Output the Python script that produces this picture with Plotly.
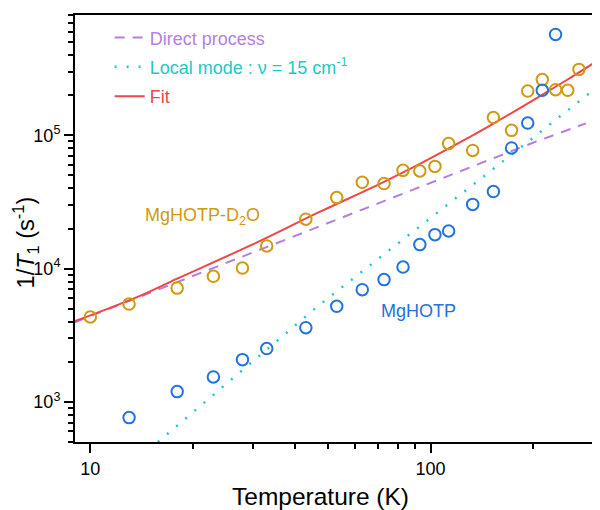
import math
import plotly.graph_objects as go

# ---------------- data ----------------
T_d2o = [10, 13, 18, 23, 28, 33, 43, 53, 63, 73, 83, 93, 103, 113, 133, 153, 173, 193, 213, 233, 253, 273]
rate_d2o = [4340, 5420, 7140, 8750, 10100, 14800, 23500, 34100, 44400, 43500, 54600, 54000,
            58500, 86700, 77100, 135900, 109000, 215000, 262000, 220000, 217600, 312600]

T_h = [13, 18, 23, 28, 33, 43, 53, 63, 73, 83, 93, 103, 113, 133, 153, 173, 193, 213, 233]
rate_h = [762, 1194, 1538, 2075, 2512, 3606, 5213, 6950, 8270, 10280, 15140, 17990, 19150,
          30340, 37850, 80400, 123600, 217600, 572000]

T_direct = [9, 14, 20, 30, 47, 100, 200, 286]
rate_direct = [3960, 6150, 8800, 13200, 20600, 44000, 88000, 123000]

T_local = [15.8, 23, 30, 41.3, 46.3, 70, 100, 146, 200, 300]
rate_local = [500, 1130, 2000, 3980, 5150, 11770, 23900, 50900, 95800, 217600]

T_fit = [9, 14, 18, 30, 47, 70, 93, 120, 150, 200, 250, 300]
rate_fit = [4030, 6250, 8400, 15200, 26500, 42500, 61000, 86500, 119000, 183000, 258000, 345000]

x_major = [10, 100]
x_major_text = ["10", "100"]
y_major = [1e3, 1e4, 1e5]
y_major_text = ["10<sup>3</sup>", "10<sup>4</sup>", "10<sup>5</sup>"]

# ---------------- styles ----------------
GOLD = "#D09A10"
BLUE = "#2373DE"
PURPLE = "#B47EE2"
CYAN = "#1CC8C8"
RED = "#F04646"
FONT = "Arial, Liberation Sans, sans-serif"

fig = go.Figure()

fig.add_trace(go.Scatter(
    x=T_direct, y=rate_direct, mode="lines",
    name=f'<span style="color:{PURPLE}">Direct process</span>',
    line=dict(color=PURPLE, width=2, dash="10px,8px"),
    legendgroup="a"))
fig.add_trace(go.Scatter(
    x=T_local, y=rate_local, mode="lines",
    name=f'<span style="color:{CYAN}">Local mode : ν = 15 cm<sup>-1</sup></span>',
    line=dict(color=CYAN, width=2.5, dash="2px,10px"),
    legendgroup="b"))
fig.add_trace(go.Scatter(
    x=T_fit, y=rate_fit, mode="lines", line_shape="spline",
    name=f'<span style="color:{RED}">Fit</span>',
    line=dict(color=RED, width=2),
    legendgroup="c"))

fig.add_trace(go.Scatter(
    x=T_d2o, y=rate_d2o, mode="markers", showlegend=False,
    marker=dict(symbol="circle-open", size=11.5, color=GOLD, line=dict(width=2, color=GOLD))))
fig.add_trace(go.Scatter(
    x=T_h, y=rate_h, mode="markers", showlegend=False,
    marker=dict(symbol="circle-open", size=11.5, color=BLUE, line=dict(width=2, color=BLUE))))

minor_x = [d * 10 ** e for e in (1, 2) for d in range(2, 10)]
minor_y = [d * 10 ** e for e in (2, 3, 4, 5) for d in range(2, 10)]

fig.update_layout(
    width=592, height=502,
    margin=dict(l=67, r=0, t=7, b=68),
    paper_bgcolor="white", plot_bgcolor="white",
    font=dict(family=FONT, size=18, color="black"),
    showlegend=True,
    legend=dict(x=0.066, y=0.990, xanchor="left", yanchor="top",
                bgcolor="rgba(0,0,0,0)", font=dict(size=18),
                traceorder="grouped", tracegroupgap=3),
    xaxis=dict(
        type="log", range=[0.955, 2.498], automargin=False,
        tickvals=x_major, ticktext=x_major_text,
        ticks="outside", ticklen=9, tickwidth=2, tickcolor="black",
        showline=True, linewidth=2, linecolor="black", mirror=True,
        showgrid=False, zeroline=False,
        tickfont=dict(size=18),
        minor=dict(tickvals=minor_x, ticks="outside", ticklen=5, tickwidth=2,
                   tickcolor="black", showgrid=False),
    ),
    yaxis=dict(
        type="log", range=[math.log10(500), math.log10(8e5)], automargin=False,
        tickvals=y_major, ticktext=y_major_text,
        ticks="outside", ticklen=9, tickwidth=2, tickcolor="black",
        showline=True, linewidth=2, linecolor="black", mirror=False,
        showgrid=False, zeroline=False,
        tickfont=dict(size=18),
        minor=dict(tickvals=minor_y, ticks="outside", ticklen=5, tickwidth=2,
                   tickcolor="black", showgrid=False),
    ),
    annotations=[
        dict(x=0.4676, y=-0.128, xref="paper", yref="paper",
             xanchor="center", yanchor="middle",
             text="Temperature (K)", showarrow=False, font=dict(size=24.5)),
        dict(x=-0.095, y=0.4677, xref="paper", yref="paper",
             xanchor="center", yanchor="middle", textangle=-90,
             text="1/<i>T</i><sub>1</sub> (s<sup>-1</sup>)", showarrow=False,
             font=dict(size=23.5)),
        dict(x=math.log10(21.4), y=4.392, xref="x", yref="y",
             text="MgHOTP-D<sub>2</sub>O", showarrow=False,
             font=dict(size=18, color=GOLD)),
        dict(x=1.9656, y=3.68, xref="x", yref="y",
             text="MgHOTP", showarrow=False,
             font=dict(size=18, color=BLUE)),
    ],
)

fig.write_html("out.html")
